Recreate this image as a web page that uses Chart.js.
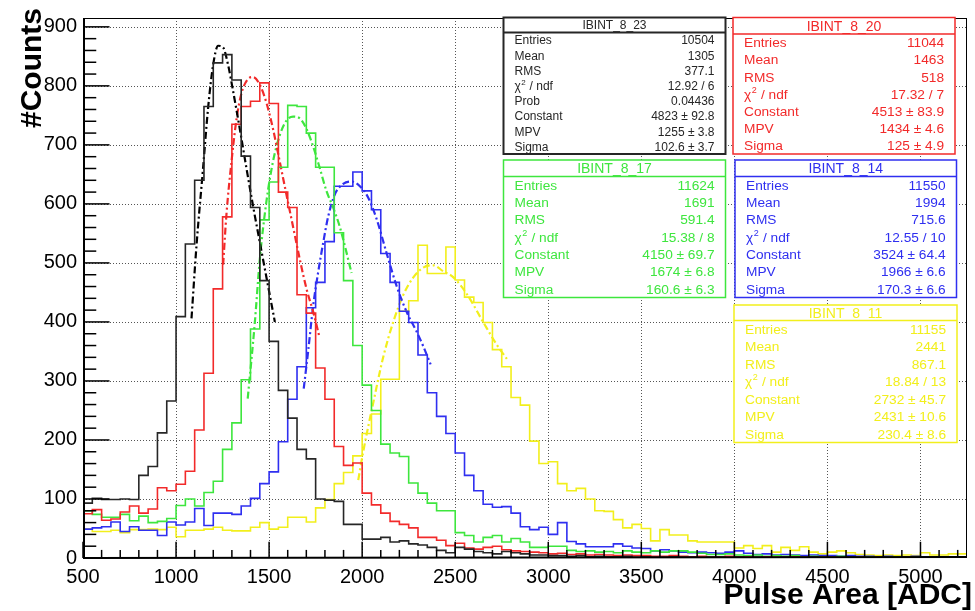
<!DOCTYPE html>
<html>
<head>
<meta charset="utf-8">
<script src="https://cdn.jsdelivr.net/npm/chart.js@4.4.0/dist/chart.umd.min.js"></script>
<style>
  html, body { margin: 0; padding: 0; background: #fff; }
  #wrap { width: 975px; height: 611px; }
</style>
</head>
<body>
<div id="wrap"><canvas id="pulseChart" width="975" height="611"></canvas></div>
<script>
// binning of the histograms (ADC), 50 wide, 500 .. 5250
const binStart = 500;
const binWidth = 50;
const xTicks = [500, 1000, 1500, 2000, 2500, 3000, 3500, 4000, 4500, 5000];
const yTicks = [0, 100, 200, 300, 400, 500, 600, 700, 800, 900];

// counts per bin
const counts_8_23 = [93, 101, 99, 99, 100, 99, 140, 155, 212, 266,
  409, 532, 640, 765, 839, 853, 810, 681, 594, 470,
  367, 284, 237, 184, 168, 100, 98, 96, 57, 57,
  32, 32, 35, 27, 29, 24, 22, 18, 13, 9,
  18, 15, 11, 9, 7, 11, 9, 7, 5, 5,
  4, 4, 3, 4, 2, 3, 2, 2, 3, 1,
  2, 1, 1, 2, 1, 1, 0, 1, 1, 0,
  1, 0, 1, 0, 0, 1, 0, 0, 1, 0,
  0, 0, 1, 0, 0, 0, 0, 0, 0, 0,
  0, 0, 0, 0, 0];
const counts_8_20 = [75, 82, 64, 66, 78, 88, 76, 83, 119, 114,
  125, 147, 217, 313, 456, 578, 735, 765, 774, 805,
  770, 620, 594, 446, 415, 322, 269, 189, 157, 161,
  110, 90, 76, 62, 57, 51, 35, 35, 30, 21,
  25, 17, 15, 18, 20, 14, 12, 11, 10, 9,
  7, 8, 6, 7, 5, 6, 5, 4, 5, 4,
  4, 3, 3, 4, 3, 2, 3, 2, 2, 3,
  2, 2, 1, 2, 1, 1, 2, 1, 1, 1,
  1, 0, 1, 1, 0, 1, 0, 0, 1, 0,
  0, 1, 0, 0, 0];
const counts_8_17 = [80, 74, 69, 69, 74, 63, 71, 60, 62, 67,
  89, 100, 88, 111, 130, 184, 229, 302, 388, 573,
  637, 662, 767, 765, 720, 662, 662, 551, 470, 360,
  293, 250, 193, 178, 172, 127, 110, 93, 80, 80,
  43, 38, 27, 35, 38, 27, 33, 27, 18, 18,
  20, 20, 13, 11, 12, 10, 11, 9, 12, 10,
  9, 12, 10, 12, 12, 10, 8, 6, 6, 7,
  5, 4, 5, 3, 4, 3, 4, 2, 3, 2,
  2, 3, 2, 1, 2, 1, 1, 2, 1, 1,
  1, 1, 0, 1, 0];
const counts_8_14 = [49, 51, 53, 61, 45, 53, 47, 47, 38, 61,
  56, 61, 84, 55, 76, 76, 74, 88, 101, 126,
  146, 197, 269, 324, 424, 467, 536, 630, 630, 654,
  622, 590, 516, 467, 418, 399, 344, 280, 240, 211,
  178, 140, 114, 91, 86, 87, 76, 53, 48, 52,
  40, 60, 28, 24, 19, 19, 19, 24, 20, 17,
  16, 12, 14, 12, 10, 9, 10, 9, 8, 10,
  12, 8, 6, 7, 5, 6, 5, 4, 5, 4,
  4, 3, 4, 3, 3, 2, 3, 2, 2, 3,
  2, 2, 1, 2, 1];
const counts_8_11 = [49, 45, 45, 47, 43, 48, 48, 49, 48, 52,
  36, 47, 47, 49, 52, 47, 46, 46, 52, 60,
  49, 52, 69, 69, 61, 85, 99, 126, 145, 173,
  211, 244, 303, 303, 418, 436, 530, 482, 482, 527,
  471, 442, 433, 399, 353, 324, 272, 259, 198, 160,
  163, 126, 114, 118, 100, 80, 79, 65, 51, 57,
  50, 29, 48, 39, 39, 29, 27, 27, 27, 27,
  17, 21, 16, 21, 10, 18, 13, 19, 10, 7,
  10, 12, 9, 6, 5, 4, 5, 4, 5, 4,
  9, 5, 5, 7, 7];

// Landau fit curves, sampled off the plot
const fitX_8_23 = [1083, 1110, 1145, 1172, 1199, 1226, 1253, 1280, 1306, 1342, 1378, 1414, 1450, 1486, 1531];
const fitY_8_23 = [406, 530, 660, 762, 835, 868, 865, 835, 792, 728, 661, 596, 535, 475, 400];
const fitX_8_20 = [1253, 1271, 1298, 1325, 1352, 1382, 1414, 1450, 1486, 1521, 1557, 1593, 1629, 1665, 1701, 1737, 1770];
const fitY_8_20 = [497, 583, 672, 744, 788, 810, 815, 802, 771, 727, 672, 616, 561, 506, 456, 417, 375];
const fitX_8_17 = [1385, 1423, 1450, 1486, 1521, 1557, 1593, 1629, 1665, 1701, 1737, 1772, 1808, 1844, 1880, 1943];
const fitY_8_17 = [270, 398, 506, 605, 672, 716, 741, 748, 745, 727, 697, 661, 622, 594, 561, 483];
const fitX_8_14 = [1686, 1710, 1737, 1763, 1790, 1817, 1853, 1898, 1943, 1988, 2032, 2077, 2131, 2185, 2239, 2292, 2328, 2368];
const fitY_8_14 = [287, 351, 428, 483, 533, 578, 616, 634, 638, 630, 611, 575, 517, 461, 417, 384, 359, 328];
const fitX_8_11 = [1979, 2005, 2059, 2113, 2167, 2220, 2274, 2328, 2382, 2435, 2489, 2561, 2650, 2722, 2785];
const fitY_8_11 = [132, 179, 262, 340, 400, 445, 475, 492, 496, 486, 476, 448, 400, 362, 334];

// stat box texts
const statRows = ['Entries', 'Mean', 'RMS', 'chi2', 'Constant', 'MPV', 'Sigma'];
const statRows_8_23 = ['Entries', 'Mean', 'RMS', 'chi2', 'Prob', 'Constant', 'MPV', 'Sigma'];
const stat_8_23 = ['10504', '1305', '377.1', '12.92 / 6', '0.04436', '4823 \u00b1 92.8', '1255 \u00b1 3.8', '102.6 \u00b1 3.7'];
const stat_8_20 = ['11044', '1463', '518', '17.32 / 7', '4513 \u00b1 83.9', '1434 \u00b1 4.6', '125 \u00b1 4.9'];
const stat_8_17 = ['11624', '1691', '591.4', '15.38 / 8', '4150 \u00b1 69.7', '1674 \u00b1 6.8', '160.6 \u00b1 6.3'];
const stat_8_14 = ['11550', '1994', '715.6', '12.55 / 10', '3524 \u00b1 64.4', '1966 \u00b1 6.6', '170.3 \u00b1 6.6'];
const stat_8_11 = ['11155', '2441', '867.1', '18.84 / 13', '2732 \u00b1 45.7', '2431 \u00b1 10.6', '230.4 \u00b1 8.6'];

const FONT = '"Liberation Sans", Arial, Helvetica, sans-serif';
const colBlack = '#262626';
const colRed = '#f22a2a';
const colGreen = '#3ee63e';
const colBlue = '#2f2ff0';
const colYellow = '#f2ef1c';

function histPoints(counts) {
    const pts = counts.map((c, i) => ({ x: binStart + i * binWidth, y: c }));
    pts.push({ x: binStart + counts.length * binWidth, y: counts[counts.length - 1] });
    return pts;
}

function fitPoints(xs, ys) {
    return xs.map((x, i) => ({ x: x, y: ys[i] }));
}

function histSet(counts, color) {
    return { data: histPoints(counts), borderColor: color, borderWidth: 1.6, stepped: true,
             pointRadius: 0, fill: false };
}

function fitSet(xs, ys, color) {
    return { data: fitPoints(xs, ys), borderColor: color, borderWidth: 2.2, borderDash: [7, 3, 2, 3],
             cubicInterpolationMode: 'monotone', pointRadius: 0, fill: false };
}

function drawStatBox(ctx, b) {
    ctx.save();
    ctx.fillStyle = '#fff';
    ctx.fillRect(b.x0, b.y0, b.x1 - b.x0, b.y1 - b.y0);
    ctx.strokeStyle = b.color;
    ctx.lineWidth = b.lw;
    ctx.strokeRect(b.x0, b.y0, b.x1 - b.x0, b.y1 - b.y0);
    ctx.beginPath();
    ctx.moveTo(b.x0, b.yh);
    ctx.lineTo(b.x1, b.yh);
    ctx.stroke();

    ctx.fillStyle = b.color;
    ctx.textBaseline = 'middle';
    ctx.textAlign = 'center';
    ctx.font = b.titleSize + 'px ' + FONT;
    ctx.fillText(b.title, (b.x0 + b.x1) / 2, (b.y0 + b.yh) / 2 + 1);

    const step = (b.y1 - b.yh) / b.labels.length;
    b.labels.forEach((lab, i) => {
        const y = b.yh + step * (i + 0.5) + 1;
        ctx.font = b.size + 'px ' + FONT;
        ctx.textAlign = 'left';
        if (lab === 'chi2') {
            const lx = b.x0 + 11;
            ctx.fillText('\u03c7', lx, y);
            const w = ctx.measureText('\u03c7').width;
            ctx.font = Math.round(b.size * 0.65) + 'px ' + FONT;
            ctx.fillText('2', lx + w + 0.5, y - b.size * 0.35);
            const w2 = ctx.measureText('2').width;
            ctx.font = b.size + 'px ' + FONT;
            ctx.fillText(' / ndf', lx + w + w2 + 1, y);
        } else {
            ctx.fillText(lab, b.x0 + 11, y);
        }
        ctx.textAlign = 'right';
        ctx.fillText(b.values[i], b.x1 - 11, y);
    });
    ctx.restore();
}

const rootStyle = {
    id: 'rootStyle',
    beforeDatasetsDraw(chart) {
        const ctx = chart.ctx, xs = chart.scales.x, ys = chart.scales.y, a = chart.chartArea;
        ctx.save();
        ctx.strokeStyle = '#555';
        ctx.lineWidth = 1;
        ctx.setLineDash([1, 2]);
        xTicks.forEach(v => {
            const px = Math.round(xs.getPixelForValue(v)) + 0.5;
            ctx.beginPath(); ctx.moveTo(px, a.top); ctx.lineTo(px, a.bottom); ctx.stroke();
        });
        yTicks.forEach(v => {
            if (v === 0) return;
            const py = Math.round(ys.getPixelForValue(v)) + 0.5;
            ctx.beginPath(); ctx.moveTo(a.left, py); ctx.lineTo(a.right, py); ctx.stroke();
        });
        ctx.restore();
    },
    afterDatasetsDraw(chart) {
        const ctx = chart.ctx, xs = chart.scales.x, ys = chart.scales.y, a = chart.chartArea;
        ctx.save();
        // frame
        ctx.strokeStyle = '#000';
        ctx.lineWidth = 1;
        ctx.strokeRect(a.left + 0.5, a.top + 0.5, a.right - a.left - 1, a.bottom - a.top - 1);
        ctx.lineWidth = 2;
        ctx.beginPath();
        ctx.moveTo(a.left + 1, a.top); ctx.lineTo(a.left + 1, a.bottom);
        ctx.lineTo(a.right, a.bottom - 1);
        ctx.stroke();
        // ticks
        ctx.lineWidth = 1.5;
        const yMajor = 0.03 * (a.right - a.left), xMajor = 0.03 * (a.bottom - a.top);
        for (let v = 0; v <= ys.max; v += 20) {
            const py = ys.getPixelForValue(v);
            const len = v % 100 === 0 ? yMajor : yMajor / 2;
            ctx.beginPath(); ctx.moveTo(a.left, py); ctx.lineTo(a.left + len, py); ctx.stroke();
        }
        for (let v = binStart; v <= xs.max; v += 100) {
            const px = xs.getPixelForValue(v);
            const len = v % 500 === 0 ? xMajor : xMajor / 2;
            ctx.beginPath(); ctx.moveTo(px, a.bottom); ctx.lineTo(px, a.bottom - len); ctx.stroke();
        }
        ctx.restore();

        drawStatBox(ctx, { x0: 503.5, y0: 17.5, x1: 725.5, y1: 154, yh: 32.5, lw: 2, color: colBlack,
            title: 'IBINT_8_23', titleSize: 12, size: 12, labels: statRows_8_23, values: stat_8_23 });
        drawStatBox(ctx, { x0: 733, y0: 17.5, x1: 955, y1: 154, yh: 34, lw: 1.5, color: colRed,
            title: 'IBINT_8_20', titleSize: 14, size: 13.7, labels: statRows, values: stat_8_20 });
        drawStatBox(ctx, { x0: 503.5, y0: 160, x1: 725.5, y1: 297.5, yh: 176.5, lw: 1.5, color: colGreen,
            title: 'IBINT_8_17', titleSize: 14, size: 13.7, labels: statRows, values: stat_8_17 });
        drawStatBox(ctx, { x0: 735, y0: 160, x1: 956.5, y1: 297.5, yh: 176.5, lw: 1.5, color: colBlue,
            title: 'IBINT_8_14', titleSize: 14, size: 13.7, labels: statRows, values: stat_8_14 });
        drawStatBox(ctx, { x0: 734, y0: 305, x1: 957, y1: 442.5, yh: 320.5, lw: 1.5, color: colYellow,
            title: 'IBINT_8_11', titleSize: 14, size: 13.7, labels: statRows, values: stat_8_11 });
    },
    afterDraw(chart) {
        const ctx = chart.ctx;
        ctx.save();
        ctx.fillStyle = '#000';
        ctx.font = 'bold 30px ' + FONT;
        ctx.textAlign = 'right';
        ctx.textBaseline = 'alphabetic';
        ctx.fillText('Pulse Area [ADC]', 972, 604);
        ctx.translate(41, 8);
        ctx.rotate(-Math.PI / 2);
        ctx.fillText('#Counts', 0, 0);
        ctx.restore();
    }
};

new Chart(document.getElementById('pulseChart').getContext('2d'), {
    type: 'line',
    data: {
        datasets: [
            histSet(counts_8_23, colBlack),
            histSet(counts_8_20, colRed),
            histSet(counts_8_17, colGreen),
            histSet(counts_8_14, colBlue),
            histSet(counts_8_11, colYellow),
            fitSet(fitX_8_23, fitY_8_23, '#000'),
            fitSet(fitX_8_20, fitY_8_20, colRed),
            fitSet(fitX_8_17, fitY_8_17, colGreen),
            fitSet(fitX_8_14, fitY_8_14, colBlue),
            fitSet(fitX_8_11, fitY_8_11, colYellow)
        ]
    },
    options: {
        responsive: false,
        animation: false,
        devicePixelRatio: 1,
        layout: { padding: { top: 7, right: 8, left: 0, bottom: 0 } },
        plugins: { legend: { display: false }, tooltip: { enabled: false } },
        scales: {
            x: {
                type: 'linear', min: 500, max: 5250,
                afterBuildTicks: s => { s.ticks = xTicks.map(v => ({ value: v })); },
                afterFit: s => { s.height = 53; },
                grid: { display: false, drawTicks: false },
                border: { display: false },
                ticks: { font: { family: FONT, size: 20 }, color: '#000', padding: 7,
                         maxRotation: 0, autoSkip: false, callback: v => String(v) }
            },
            y: {
                type: 'linear', min: 0, max: 915,
                afterBuildTicks: s => { s.ticks = yTicks.map(v => ({ value: v })); },
                afterFit: s => { s.width = 83; },
                grid: { display: false, drawTicks: false },
                border: { display: false },
                ticks: { font: { family: FONT, size: 20 }, color: '#000', padding: 6,
                         autoSkip: false, callback: v => String(v) }
            }
        }
    },
    plugins: [rootStyle]
});
</script>
</body>
</html>
